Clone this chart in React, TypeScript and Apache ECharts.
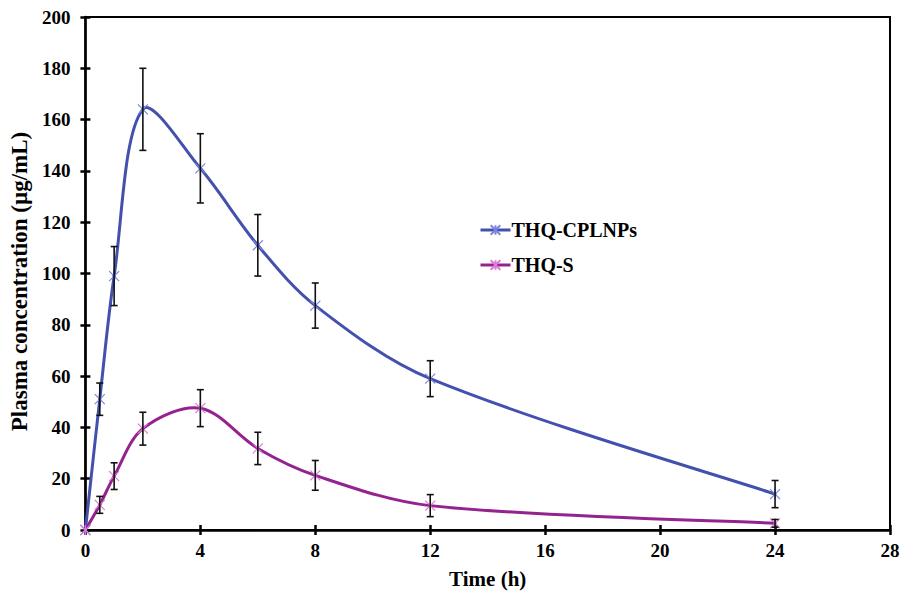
import React, { useEffect, useRef } from "react";
import * as echarts from "echarts";

const timeH = [0, 0.5, 1, 2, 4, 6, 8, 12, 24];
const cplnps = [0, 51, 99, 164, 141, 111, 87.5, 59, 14];
const cplnpsErr = [0, 6.3, 11.5, 16, 13.5, 12, 8.8, 7, 5.3];
const thqs = [0, 9.8, 21, 39.5, 47.5, 31.8, 21.3, 9.5, 2.6];
const thqsErr = [0, 3.3, 5.2, 6.4, 7.2, 6.3, 5.8, 4.3, 1.5];
const seriesNames = ["THQ-CPLNPs", "THQ-S"];
const lineColors = ["#4350AE", "#94228F"];
const markerColors = ["#7C84DE", "#DA7AD6"];

const FONT = "'Liberation Serif', 'Times New Roman', serif";
const STAR = "path://M0 0 L10 10 M10 0 L0 10 M5 0 L5 10";

export default function App() {
  const ref = useRef<HTMLDivElement>(null);
  useEffect(() => {
    if (!ref.current) return;
    const chart = echarts.init(ref.current, null, { renderer: "svg" });
    const lineData = (vals: number[]) => timeH.map((t, i) => [t, vals[i]]);
    const errData = (vals: number[], errs: number[]) =>
      timeH.map((t, i) => [t, vals[i], errs[i]]).filter((d) => d[2] > 0);
    const renderErr = (params: any, api: any) => {
      const x = api.value(0);
      const y = api.value(1);
      const e = api.value(2);
      const top = api.coord([x, y + e]);
      const bot = api.coord([x, y - e]);
      const cap = 3.5;
      const style = { stroke: "#111", lineWidth: 1.6 };
      return {
        type: "group",
        children: [
          { type: "line", shape: { x1: top[0], y1: top[1], x2: bot[0], y2: bot[1] }, style },
          { type: "line", shape: { x1: top[0] - cap, y1: top[1], x2: top[0] + cap, y2: top[1] }, style },
          { type: "line", shape: { x1: bot[0] - cap, y1: bot[1], x2: bot[0] + cap, y2: bot[1] }, style },
        ],
      };
    };
    const dist = (a: number[], b: number[]) => Math.hypot(a[0] - b[0], a[1] - b[1]);
    // Smoothed line segments (Catmull-Rom style, scaled by neighbouring segment lengths)
    const makeCurve = (vals: number[], color: string) => (params: any, api: any) => {
      const i = params.dataIndex;
      const n = timeH.length;
      if (i >= n - 1) return { type: "group", children: [] };
      const P = (k: number) => {
        const kk = Math.max(0, Math.min(n - 1, k));
        return api.coord([timeH[kk], vals[kk]]);
      };
      const p0 = P(i - 1), p1 = P(i), p2 = P(i + 1), p3 = P(i + 2);
      const d01 = dist(p0, p1), d12 = dist(p1, p2), d23 = dist(p2, p3);
      const s1 = d01 + d12 > 0 ? d12 / (d01 + d12) / 3 : 0;
      const s2 = d12 + d23 > 0 ? d12 / (d12 + d23) / 3 : 0;
      const k1 = i === 0 ? 1 / 6 : s1;
      const k2 = i + 2 > n - 1 ? 1 / 6 : s2;
      return {
        type: "bezierCurve",
        shape: {
          x1: p1[0], y1: p1[1],
          x2: p2[0], y2: p2[1],
          cpx1: p1[0] + (p2[0] - p0[0]) * k1,
          cpy1: p1[1] + (p2[1] - p0[1]) * k1,
          cpx2: p2[0] - (p3[0] - p1[0]) * k2,
          cpy2: p2[1] - (p3[1] - p1[1]) * k2,
        },
        style: { stroke: color, lineWidth: 3, fill: null, lineCap: "round" },
      };
    };
    const labelStyle = { fontFamily: FONT, fontWeight: "bold" as const, fontSize: 19, color: "#000" };
    const baseAxisLine = { show: true, lineStyle: { color: "#000", width: 2.5 } };
    chart.setOption({
      animation: false,
      backgroundColor: "#fff",
      grid: {
        left: 83,
        right: 13,
        top: 17,
        bottom: 66,
        show: true,
        borderColor: "#000",
        borderWidth: 2,
      },
      legend: {
        orient: "vertical",
        left: 474,
        top: 215,
        itemGap: 15,
        itemWidth: 30,
        itemHeight: 12,
        data: seriesNames.map((name, k) => ({
          name,
          lineStyle: { color: lineColors[k], width: 3, opacity: 1 },
        })),
        textStyle: { ...labelStyle, fontSize: 20, padding: [0, 0, 0, -4] },
      },
      xAxis: [
        {
          type: "value",
          min: 0,
          max: 28,
          interval: 4,
          position: "bottom",
          axisLine: baseAxisLine,
          axisTick: { show: true, length: 5, lineStyle: { color: "#000", width: 2.5 } },
          axisLabel: { ...labelStyle, margin: 11 },
          splitLine: { show: false },
          name: "Time (h)",
          nameLocation: "middle",
          nameGap: 38,
          nameTextStyle: { ...labelStyle, fontSize: 21 },
        },
        {
          type: "value",
          min: 0,
          max: 28,
          interval: 4,
          position: "bottom",
          axisLine: { show: false },
          axisTick: { show: true, inside: true, length: 5, lineStyle: { color: "#000", width: 2.5 } },
          axisLabel: { show: false },
          splitLine: { show: false },
        },
      ],
      yAxis: [
        {
          type: "value",
          min: 0,
          max: 200,
          interval: 20,
          position: "left",
          axisLine: baseAxisLine,
          axisTick: { show: true, length: 5, lineStyle: { color: "#000", width: 2.5 } },
          axisLabel: { ...labelStyle, margin: 15 },
          splitLine: { show: false },
          name: "Plasma concentration (µg/mL)",
          nameLocation: "middle",
          nameGap: 54,
          nameTextStyle: { ...labelStyle, fontSize: 23, padding: [0, 16, 0, 0] },
        },
        {
          type: "value",
          min: 0,
          max: 200,
          interval: 20,
          position: "left",
          axisLine: { show: false },
          axisTick: { show: true, inside: true, length: 5, lineStyle: { color: "#000", width: 2.5 } },
          axisLabel: { show: false },
          splitLine: { show: false },
        },
      ],
      series: [
        {
          type: "custom",
          renderItem: makeCurve(cplnps, lineColors[0]),
          data: lineData(cplnps),
          encode: { x: 0, y: 1 },
          z: 2,
          silent: true,
        },
        {
          type: "custom",
          renderItem: makeCurve(thqs, lineColors[1]),
          data: lineData(thqs),
          encode: { x: 0, y: 1 },
          z: 2,
          silent: true,
        },
        {
          name: seriesNames[0],
          type: "line",
          data: lineData(cplnps),
          symbol: STAR,
          symbolSize: 10,
          showAllSymbol: true,
          lineStyle: { color: lineColors[0], width: 3, opacity: 0 },
          itemStyle: { color: lineColors[0], borderColor: markerColors[0], borderWidth: 1.2 },
          z: 3,
        },
        {
          name: seriesNames[1],
          type: "line",
          data: lineData(thqs),
          symbol: STAR,
          symbolSize: 10,
          showAllSymbol: true,
          lineStyle: { color: lineColors[1], width: 3, opacity: 0 },
          itemStyle: { color: lineColors[1], borderColor: markerColors[1], borderWidth: 1.2 },
          z: 3,
        },
        {
          type: "custom",
          renderItem: renderErr,
          data: errData(cplnps, cplnpsErr),
          encode: { x: 0, y: 1 },
          z: 5,
          silent: true,
        },
        {
          type: "custom",
          renderItem: renderErr,
          data: errData(thqs, thqsErr),
          encode: { x: 0, y: 1 },
          z: 5,
          silent: true,
        },
      ],
    });
    return () => chart.dispose();
  }, []);
  return <div ref={ref} style={{ width: 903, height: 596, position: "absolute", left: 0, top: 0 }} />;
}
